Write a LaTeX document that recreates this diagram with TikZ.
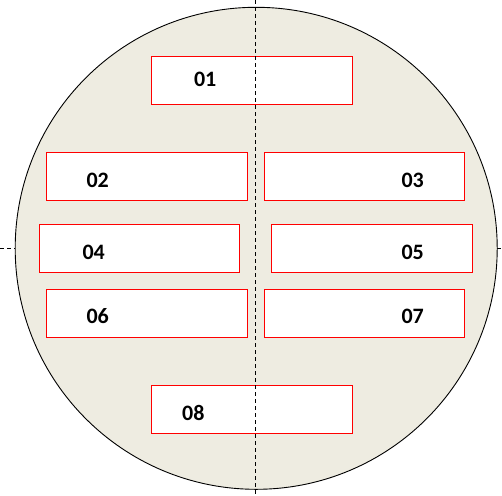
\documentclass[tikz,border=0pt]{standalone}
\usepackage{fontspec}
\setmainfont{Carlito}
\definecolor{wafer}{HTML}{EEECE1}
\begin{document}
\begin{tikzpicture}[x=1pt,y=-1pt,
  slot/.style={draw=red, line width=0.9pt, fill=white, minimum width=200.6pt, minimum height=48pt, inner sep=0pt, outer sep=0pt},
  lbl/.style={font=\fontsize{22}{26}\selectfont\bfseries, inner sep=0pt, anchor=center},
  axis/.style={black, line width=0.8pt, dash pattern=on 4pt off 3pt}]
\useasboundingbox (0,0) rectangle (502,495);
\coordinate (hl) at (0,248.3);
\coordinate (hr) at (502,248.3);
\coordinate (vt) at (255.7,0);
\coordinate (vb) at (255.7,495);
\draw[axis] (hl) -- (hr);
\node[circle, draw=black, line width=0.9pt, fill=wafer, minimum size=482pt, inner sep=0pt] (wafer) at (256.2,248.3) {};
\node[slot] (b1) at (252,80.3) {};
\node[slot] (b2) at (147,176.7) {};
\node[slot] (b3) at (364.3,176.7) {};
\node[slot] (b4) at (139.3,248.7) {};
\node[slot] (b5) at (371.7,248.7) {};
\node[slot] (b6) at (147,313) {};
\node[slot] (b7) at (364.3,313) {};
\node[slot] (b8) at (252,409.2) {};
\draw[axis] (vt) -- (vb);
\node[lbl] (t1) at (205.2,78.9) {01};
\node[lbl] (t2) at (97.7,180.3) {02};
\node[lbl] (t3) at (412.7,180.3) {03};
\node[lbl] (t4) at (93.7,252.3) {04};
\node[lbl] (t5) at (412.7,252.3) {05};
\node[lbl] (t6) at (97.7,316.3) {06};
\node[lbl] (t7) at (412.7,316.3) {07};
\node[lbl] (t8) at (193.3,412.5) {08};
\end{tikzpicture}
\end{document}
